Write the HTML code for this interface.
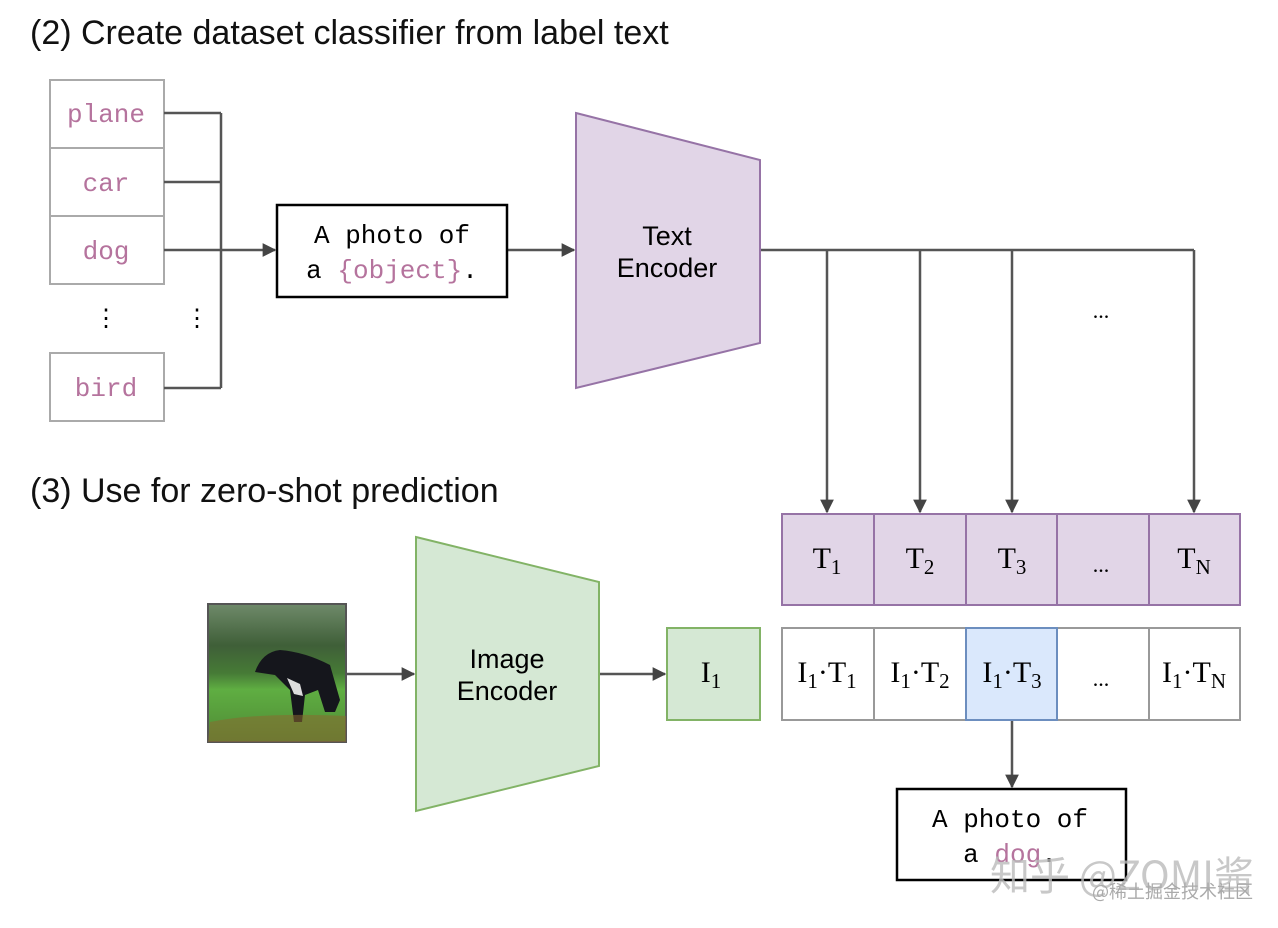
<!DOCTYPE html>
<html><head><meta charset="utf-8"><style>
body{margin:0;background:#fff;width:1278px;height:928px;overflow:hidden}
svg{display:block}
.s{font-family:"Liberation Sans",sans-serif}
.m{font-family:"Liberation Mono",monospace}
.r{font-family:"Liberation Serif",serif}
</style></head><body>
<svg width="1278" height="928" viewBox="0 0 1278 928">
<defs>
<marker id="a" viewBox="0 0 10 10" refX="9" refY="5" markerWidth="5.5" markerHeight="5.5" markerUnits="strokeWidth" orient="auto"><path d="M0,0 L10,5 L0,10 Z" fill="#444"/></marker>
<linearGradient id="g1" x1="0" y1="0" x2="0" y2="1"><stop offset="0" stop-color="#6f8a6a"/><stop offset="0.3" stop-color="#3f5f38"/><stop offset="0.5" stop-color="#467a36"/><stop offset="0.62" stop-color="#5fae42"/><stop offset="1" stop-color="#4f8a35"/></linearGradient>
</defs>
<text x="30" y="44" class="s" font-size="34" fill="#111">(2) Create dataset classifier from label text</text>
<text x="30" y="502" class="s" font-size="34" fill="#111">(3) Use for zero-shot prediction</text>
<g fill="#fff" stroke="#aaa" stroke-width="2">
<rect x="50" y="80" width="114" height="68"/><rect x="50" y="148" width="114" height="68"/><rect x="50" y="216" width="114" height="68"/><rect x="50" y="353" width="114" height="68"/>
</g>
<g class="m" font-size="26" fill="#b5739d" text-anchor="middle">
<text x="106" y="122">plane</text><text x="106" y="191">car</text><text x="106" y="259">dog</text><text x="106" y="396">bird</text>
</g>
<text x="106" y="326" font-size="24" text-anchor="middle" class="s">⋮</text>
<text x="197" y="326" font-size="24" text-anchor="middle" class="s">⋮</text>
<g stroke="#555" stroke-width="2.5" fill="none">
<path d="M164,113H221M164,182H221M164,250H221M164,388H221M221,113V388"/>
<path d="M221,250H275" marker-end="url(#a)"/>
<path d="M507,250H574" marker-end="url(#a)"/>
<path d="M760,250H1194"/>
<path d="M827,250V512" marker-end="url(#a)"/><path d="M920,250V512" marker-end="url(#a)"/><path d="M1012,250V512" marker-end="url(#a)"/><path d="M1194,250V512" marker-end="url(#a)"/>
<path d="M346,674H414" marker-end="url(#a)"/>
<path d="M599,674H665" marker-end="url(#a)"/>
<path d="M1012,720V787" marker-end="url(#a)"/>
</g>
<rect x="277" y="205" width="230" height="92" fill="#fff" stroke="#000" stroke-width="2.5"/>
<text x="392" y="243" class="m" font-size="26" text-anchor="middle">A photo of</text>
<text x="392" y="278" class="m" font-size="26" text-anchor="middle">a <tspan fill="#b5739d">{object}</tspan>.</text>
<path d="M576,113L760,160V343L576,388Z" fill="#e1d5e7" stroke="#9673a6" stroke-width="2"/>
<text x="667" y="245" class="s" font-size="27" text-anchor="middle">Text</text>
<text x="667" y="277" class="s" font-size="27" text-anchor="middle">Encoder</text>
<text x="1101" y="318" class="r" font-size="22" text-anchor="middle">...</text>
<g fill="#e1d5e7" stroke="#9673a6" stroke-width="2">
<rect x="782" y="514" width="92" height="91"/><rect x="874" y="514" width="92" height="91"/><rect x="966" y="514" width="91" height="91"/><rect x="1057" y="514" width="92" height="91"/><rect x="1149" y="514" width="91" height="91"/>
</g>
<g class="r" font-size="30" text-anchor="middle">
<text x="827" y="568">T<tspan font-size="21" dy="6">1</tspan></text>
<text x="920" y="568">T<tspan font-size="21" dy="6">2</tspan></text>
<text x="1012" y="568">T<tspan font-size="21" dy="6">3</tspan></text>
<text x="1101" y="572" font-size="22">...</text>
<text x="1194" y="568">T<tspan font-size="21" dy="6">N</tspan></text>
</g>
<g fill="#fff" stroke="#999" stroke-width="2">
<rect x="782" y="628" width="92" height="92"/><rect x="874" y="628" width="92" height="92"/><rect x="1057" y="628" width="92" height="92"/><rect x="1149" y="628" width="91" height="92"/>
</g>
<rect x="966" y="628" width="91" height="92" fill="#dae8fc" stroke="#6c8ebf" stroke-width="2"/>
<g class="r" font-size="30" text-anchor="middle">
<text x="827" y="682">I<tspan font-size="21" dy="6">1</tspan><tspan dy="-6">·T</tspan><tspan font-size="21" dy="6">1</tspan></text>
<text x="920" y="682">I<tspan font-size="21" dy="6">1</tspan><tspan dy="-6">·T</tspan><tspan font-size="21" dy="6">2</tspan></text>
<text x="1012" y="682">I<tspan font-size="21" dy="6">1</tspan><tspan dy="-6">·T</tspan><tspan font-size="21" dy="6">3</tspan></text>
<text x="1101" y="686" font-size="22">...</text>
<text x="1194" y="682">I<tspan font-size="21" dy="6">1</tspan><tspan dy="-6">·T</tspan><tspan font-size="21" dy="6">N</tspan></text>
</g>
<path d="M416,537L599,582V766L416,811Z" fill="#d5e8d4" stroke="#82b366" stroke-width="2"/>
<text x="507" y="668" class="s" font-size="27" text-anchor="middle">Image</text>
<text x="507" y="700" class="s" font-size="27" text-anchor="middle">Encoder</text>
<rect x="667" y="628" width="93" height="92" fill="#d5e8d4" stroke="#82b366" stroke-width="2"/>
<text x="711" y="682" class="r" font-size="30" text-anchor="middle">I<tspan font-size="21" dy="6">1</tspan></text>
<rect x="208" y="604" width="138" height="138" fill="url(#g1)" stroke="#555" stroke-width="2"/>
<path d="M255,672 Q262,652 280,650 Q305,652 330,665 L340,700 L335,712 L325,712 L318,690 L305,695 L302,722 L294,722 L290,690 L275,675 Z" fill="#15161c"/>
<path d="M287,678 L300,684 L303,696 L294,694 Z" fill="#ddd"/>
<path d="M210,722 Q260,712 346,716 L346,742 L208,742Z" fill="#8a6a30" opacity="0.55"/>
<rect x="897" y="789" width="229" height="91" fill="#fff" stroke="#000" stroke-width="2.5"/>
<text x="1010" y="827" class="m" font-size="26" text-anchor="middle">A photo of</text>
<text x="1010" y="862" class="m" font-size="26" text-anchor="middle">a <tspan fill="#b5739d">dog</tspan>.</text>
<text x="990" y="890" font-family="'Noto Sans CJK SC',sans-serif" font-size="40" fill="#bbb" opacity="0.8">知乎 @ZOMI酱</text>
<text x="1092" y="898" font-family="'Noto Sans CJK SC',sans-serif" font-size="18" fill="#aaa">@稀土掘金技术社区</text>
</svg>
</body></html>
